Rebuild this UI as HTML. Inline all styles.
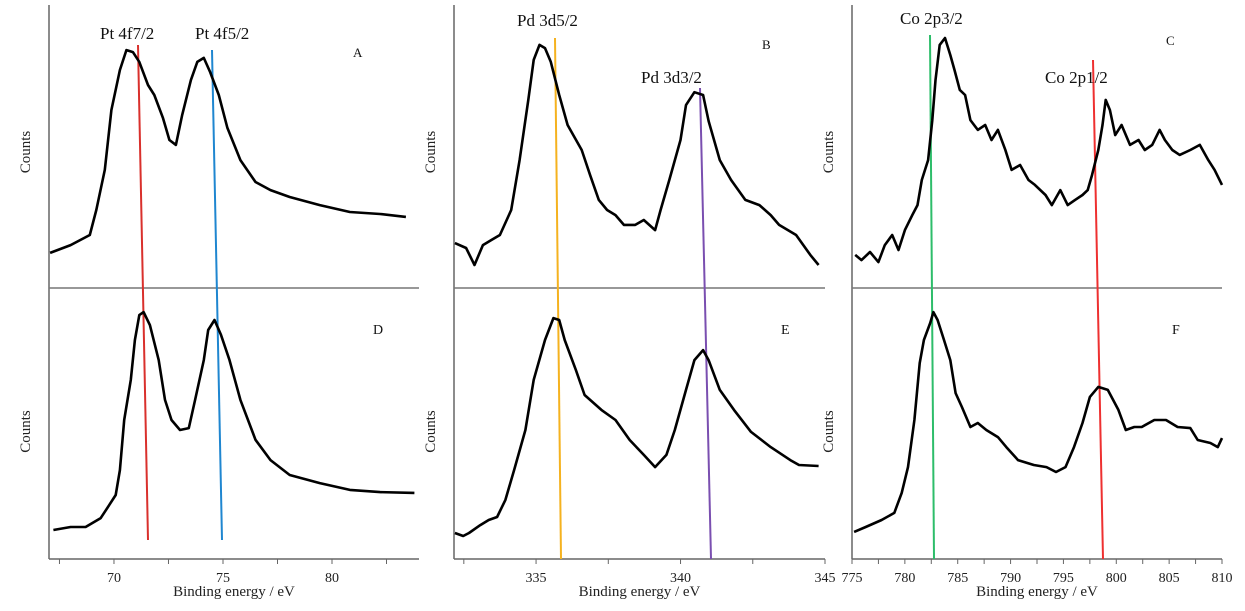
<!DOCTYPE html>
<html><head><meta charset="utf-8"><style>
body{margin:0;background:#fff;}
svg{display:block;font-family:"Liberation Serif",serif;}
</style></head><body>
<svg id="chart" width="1245" height="611" viewBox="0 0 1245 611"></svg>
<script>
const aEv=[67.07,68.01,68.89,69.19,69.58,69.88,70.27,70.57,70.87,71.16,71.56,71.85,72.25,72.54,72.84,73.13,73.53,73.82,74.12,74.41,74.81,75.2,75.8,76.49,77.18,78.06,79.44,80.82,82.2,83.39];
const aCounts=[12.2,14.9,18.4,27.1,41,61.8,75.7,82.6,81.9,78.5,70.5,67,59,51.4,49.7,60.1,72.2,78.5,79.9,75,67,55.6,44.4,36.8,34,31.6,28.8,26.4,25.7,24.7];
const dEv=[67.22,68.01,68.7,69.39,69.78,70.08,70.27,70.47,70.77,70.96,71.16,71.36,71.65,72.05,72.34,72.64,73.03,73.43,73.72,74.12,74.32,74.61,74.91,75.3,75.8,76.49,77.18,78.06,79.44,80.82,82.2,83.78];
const dCounts=[10.7,11.8,11.8,15.1,19.9,23.6,32.8,51.3,66.1,80.8,90,91.1,86.3,73.4,58.7,51.3,47.6,48.3,58.7,73.4,84.5,88.2,82.7,73.4,58.7,44,36.5,31,28,25.5,24.7,24.4];
const bEv=[332.19,332.58,332.87,333.16,333.46,333.75,334.14,334.43,334.73,334.92,335.12,335.31,335.51,335.8,336.09,336.29,336.58,336.87,337.17,337.46,337.75,338.04,338.43,338.73,339.12,339.31,339.61,340.0,340.19,340.48,340.78,340.97,341.36,341.75,342.24,342.73,343.12,343.41,344.0,344.49,344.78];
const bCounts=[15.6,13.9,8,14.9,16.7,18.4,27.1,44.4,65.3,79.2,84.4,83.3,78.5,67,56.6,53.1,47.9,39.2,30.6,27.1,25.3,21.9,21.9,23.6,20.1,27.1,37.5,51.4,63.5,68,67,58,44.4,37.5,30.6,28.8,25.3,21.9,18.4,11.5,8];
const eEv=[332.19,332.48,332.68,333.07,333.36,333.65,333.94,334.24,334.63,334.92,335.31,335.6,335.8,335.99,336.38,336.68,337.26,337.75,338.24,338.73,339.12,339.51,339.8,340.19,340.48,340.78,340.97,341.36,341.85,342.44,343.12,343.8,344.1,344.78];
const eCounts=[9.6,8.5,9.6,12.5,14.4,15.5,21.8,32.8,47.6,66.1,80.8,88.9,88.2,80.8,69.7,60.5,55,51.3,43.9,38.4,33.9,38.4,47.6,62.4,73.4,77.1,73.4,62.4,55,46.9,41.3,36.5,34.7,34.3];
const cEv=[775.3,775.9,776.7,777.5,778.1,778.8,779.4,780.0,780.7,781.2,781.6,782.2,782.6,782.9,783.3,783.8,784.3,784.7,785.2,785.7,786.2,786.9,787.6,788.2,788.8,789.5,790.1,790.9,791.7,792.3,793.3,793.9,794.7,795.4,796.1,796.8,797.3,797.7,798.3,798.7,799.0,799.4,799.9,800.5,801.3,802.1,802.7,803.4,804.1,804.6,805.3,806.0,807.0,807.9,808.7,809.3,810.0];
const cCounts=[11.5,9.7,12.5,9,14.9,18.4,13.2,20.1,25.3,28.8,37.5,44.4,58.3,72.2,84.4,86.8,80.9,75.7,68.8,67,58.3,54.9,56.6,51.4,54.9,48,41,42.7,37.5,35.8,32.3,28.8,34,28.8,30.6,32.3,34,39.2,47.9,56.6,65.3,61.8,53.1,56.6,49.7,51.4,47.9,49.7,54.9,51.4,47.9,46.2,47.9,49.7,44.4,41,35.8];
const fEv=[775.2,776.3,777.8,779.0,779.7,780.3,780.9,781.4,781.8,782.4,782.7,783.1,783.7,784.3,784.8,785.4,786.2,786.9,787.7,788.8,789.6,790.7,792.2,793.4,794.3,795.2,796.0,796.8,797.5,798.3,799.2,800.2,800.9,801.7,802.4,803.6,804.7,805.8,807.0,807.7,808.9,809.6,810];
const fCounts=[10,11.8,14.4,17,24.4,33.9,51.3,72.3,80.8,87.1,91.1,88.2,80.8,73.4,61.2,56.1,48.7,50.2,47.6,45,41.3,36.5,34.7,33.9,32.1,33.9,41.3,50.2,59.8,63.5,62.4,55,47.6,48.7,48.7,51.3,51.3,48.7,48.3,43.9,42.8,41.3,44.6];
const tickLabels1=["70","75","80"];
const tickLabels2=["335","340","345"];
const tickLabels3=["775","780","785","790","795","800","805","810"];

const NS="http://www.w3.org/2000/svg";
const svg=document.getElementById('chart');
function mk(tag,attrs,parent){const e=document.createElementNS(NS,tag);for(const k in attrs)e.setAttribute(k,attrs[k]);(parent||svg).appendChild(e);return e;}
const cols=[
 {x0:49,x1:419,e0:67.02,e1:83.99,ticks:[67.5,70,72.5,75,77.5,80,82.5],labels:tickLabels1,lv:[70,75,80]},
 {x0:454,x1:825,e0:332.16,e1:345,ticks:[332.5,335,337.5,340,342.5,345],labels:tickLabels2,lv:[335,340,345]},
 {x0:852,x1:1222,e0:775,e1:810,ticks:[775,777.5,780,782.5,785,787.5,790,792.5,795,797.5,800,802.5,805,807.5,810],labels:tickLabels3,lv:[775,780,785,790,795,800,805,810]}];
const rows=[{top:0,bot:288},{top:288,bot:559}];
function xs(c,ev){return c.x0+(ev-c.e0)/(c.e1-c.e0)*(c.x1-c.x0);}
function ys(r,v){return r.bot-v/100*(r.bot-r.top);}
cols.forEach((c,i)=>{
 let a=mk('line',{x1:c.x0,y1:5,x2:c.x0,y2:559,stroke:'#666','stroke-width':1.5});
 
 
 let d=mk('line',{x1:c.x0,y1:288,x2:c.x1,y2:288,stroke:'#777','stroke-width':1.5});
 
 
 let b=mk('line',{x1:c.x0,y1:559,x2:c.x1,y2:559,stroke:'#666','stroke-width':1.5});
 
 
 c.ticks.forEach(t=>{let tk=mk('line',{x1:xs(c,t),y1:559,x2:xs(c,t),y2:564,stroke:'#666'});
  
  });
 c.lv.forEach((v,j)=>{let tl=mk('text',{x:xs(c,v),y:582,'font-size':14,'text-anchor':'middle',fill:'#222'});tl.textContent=c.labels[j];
  
  });
 let xl=mk('text',{x:(c.x0+c.x1)/2,y:596,'font-size':15,'text-anchor':'middle',fill:'#222'});xl.textContent='Binding energy / eV';
 
 
 rows.forEach((r,k)=>{let cy=(r.top+r.bot)/2+8;let yl=mk('text',{x:0,y:0,'font-size':15,'text-anchor':'middle',fill:'#222',transform:`translate(${c.x0-19},${cy}) rotate(-90)`});yl.textContent='Counts';
  
  });
});
const series=[[0,0,aEv,aCounts,'A'],[0,1,dEv,dCounts,'D'],[1,0,bEv,bCounts,'B'],[1,1,eEv,eCounts,'E'],[2,0,cEv,cCounts,'C'],[2,1,fEv,fCounts,'F']];
const markers=[[138,45,148,540,'#d9302c','pt-4f7-marker'],[212,50,222,540,'#1f86d0','pt-4f5-marker'],[555,38,561,559,'#f5b21f','pd-3d5-marker'],[700,88,711,559,'#7a4fb0','pd-3d3-marker'],[930,35,934,559,'#2dbd6a','co-2p3-marker'],[1093,60,1103,559,'#ee3030','co-2p1-marker']];
markers.forEach(m=>{let l=mk('line',{x1:m[0],y1:m[1],x2:m[2],y2:m[3],stroke:m[4],'stroke-width':2});
 
 });
series.forEach(s=>{const c=cols[s[0]],r=rows[s[1]];
 const pts=s[2].map((e,i)=>xs(c,e).toFixed(1)+','+ys(r,s[3][i]).toFixed(1)).join(' ');
 let p=mk('polyline',{points:pts,fill:'none',stroke:'#000','stroke-width':2.6,'stroke-linejoin':'round'});
 
 });
const texts=[[100,39,'Pt 4f7/2',17,'label-pt-4f7'],[195,39,'Pt 4f5/2',17,'label-pt-4f5'],[517,26,'Pd 3d5/2',17,'label-pd-3d5'],[641,83,'Pd 3d3/2',17,'label-pd-3d3'],[900,24,'Co 2p3/2',17,'label-co-2p3'],[1045,83,'Co 2p1/2',17,'label-co-2p1'],
 [353,57,'A',13,'panel-A'],[762,49,'B',13,'panel-B'],[1166,45,'C',13,'panel-C'],[373,334,'D',14,'panel-D'],[781,334,'E',14,'panel-E'],[1172,334,'F',14,'panel-F']];
texts.forEach(t=>{let e=mk('text',{x:t[0],y:t[1],'font-size':t[3],fill:'#111'});e.textContent=t[2];
 
 });
</script>
</body></html>
